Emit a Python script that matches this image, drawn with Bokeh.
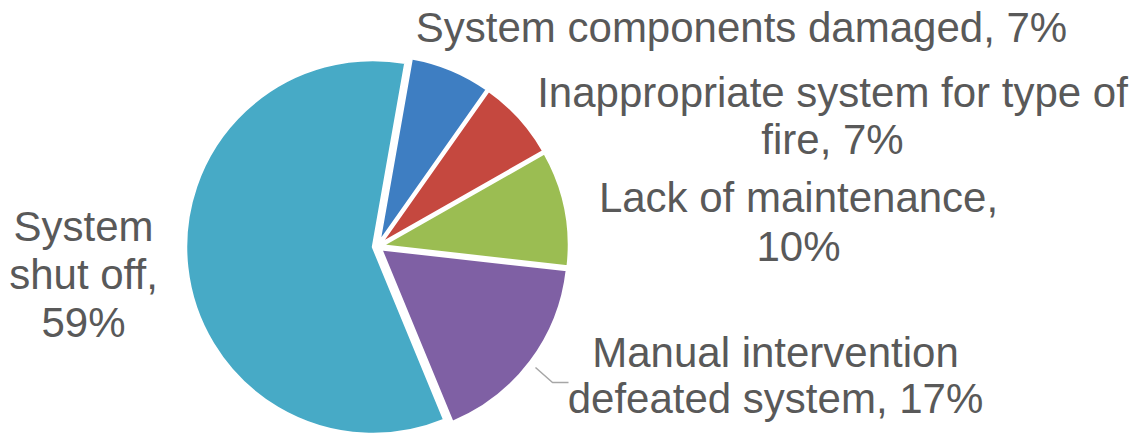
import numpy as np
from bokeh.plotting import figure
from bokeh.models import Range1d, ColumnDataSource
from bokeh.core.properties import value
from bokeh.embed import file_html
from bokeh.resources import INLINE

# ---- data ----
categories = ["System components damaged", "Inappropriate system for type of fire",
              "Lack of maintenance", "Manual intervention defeated system", "System shut off"]
shares = [7, 7, 10, 17, 59]
colors = ["#3E7EC2", "#C5483F", "#9BBD52", "#7F60A4", "#47AAC6"]
label_lines = [
    ["System components damaged, 7%"],
    ["Inappropriate system for type of", "fire, 7%"],
    ["Lack of maintenance,", "10%"],
    ["Manual intervention", "defeated system, 17%"],
    ["System", "shut off,", "59%"],
]

# ---- layout (image pixel coordinates) ----
W, H = 1135, 435
cx, cy = 377, 246
radius = 187
explode = 4.5
first_angle = 10.0
text_shift = 16  # compensation for renderer baseline placement
label_pos = [  # (center x, first baseline y, line step)
    (741, 43, 0),
    (832, 108, 47),
    (798, 213, 49),
    (775, 368, 46),
    (83, 242, 48),
]

def Y(img_y):
    return H - img_y

p = figure(width=W, height=H, output_backend="svg", toolbar_location=None,
           x_range=Range1d(0, W), y_range=Range1d(0, H), min_border=0)
p.axis.visible = False
p.grid.visible = False
p.outline_line_color = None
p.background_fill_color = "white"
p.border_fill_color = "white"

vals = np.array(shares, dtype=float)
fr = vals / vals.sum() * 360.0
ends = first_angle + np.cumsum(fr)
starts = ends - fr
mids = (starts + ends) / 2.0
xs = cx + explode * np.sin(np.radians(mids))
ys = Y(cy) + explode * np.cos(np.radians(mids))
src = ColumnDataSource(dict(
    x=xs, y=ys,
    start=np.radians(90 - ends), end=np.radians(90 - starts),
    color=colors, name=categories,
))
p.wedge(x="x", y="y", radius=radius, start_angle="start", end_angle="end",
        direction="anticlock", fill_color="color", line_color="white",
        line_width=2.5, source=src)

# leader line for the purple slice
p.line(x=[535, 552, 568], y=[Y(367), Y(382), Y(382)], line_color="#A6A6A6", line_width=1.5)

tx, ty, tt = [], [], []
for lines, (lx, ly, step) in zip(label_lines, label_pos):
    for i, t in enumerate(lines):
        tx.append(lx)
        ty.append(Y(ly + i * step - text_shift))
        tt.append(t)
p.text(x=tx, y=ty, text=tt, text_align="center", text_baseline="alphabetic",
       text_font=value("Liberation Sans"), text_font_size="42px", text_color="#595959")

open("out.html", "w").write(file_html(p, INLINE))
